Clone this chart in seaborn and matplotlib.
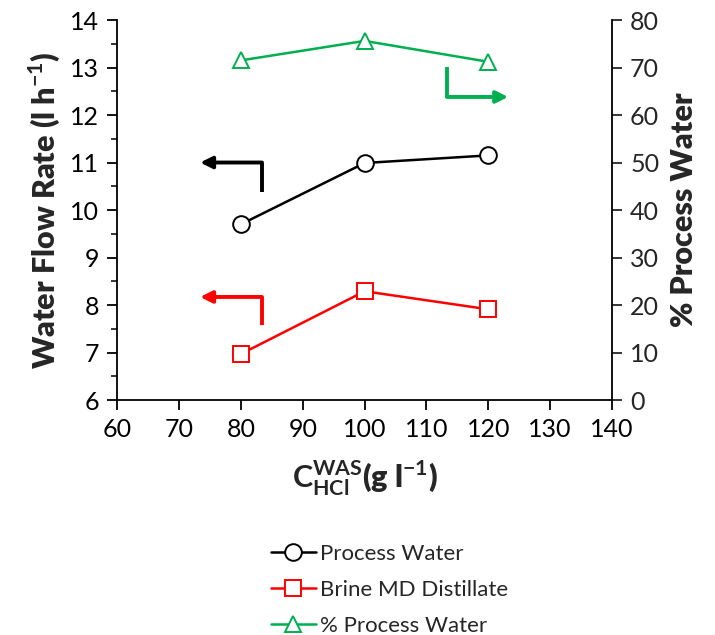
import numpy as np
import pandas as pd
import matplotlib
matplotlib.use("Agg")
import matplotlib.pyplot as plt
import seaborn as sns
from matplotlib.ticker import MultipleLocator

# data
conc_hcl = [80, 100, 120]
process_water = [9.70, 10.99, 11.15]
brine_md = [6.97, 8.29, 7.91]
pct_process = [71.5, 75.6, 71.2]

sns.set_style("white")
plt.rcParams['font.family'] = ['Lato', 'DejaVu Sans']
plt.rcParams['mathtext.fontset'] = 'custom'
plt.rcParams['mathtext.rm'] = 'Lato'
plt.rcParams['mathtext.bf'] = 'Lato:bold'

df = pd.DataFrame({'C': conc_hcl, 'pw': process_water, 'brine': brine_md, 'pct': pct_process})

fig = plt.figure(figsize=(7.15, 6.35), dpi=100)
ax = fig.add_axes([0.164, 0.37, 0.692, 0.5985])
ax2 = ax.twinx()

sns.lineplot(data=df, x='C', y='pw', ax=ax, color='black', lw=1.8, marker='o', ms=12,
             mfc='white', mec='black', mew=1.4, label='Process Water', legend=False)
sns.lineplot(data=df, x='C', y='brine', ax=ax, color='#ff0000', lw=1.8, marker='s', ms=12,
             mfc='white', mec='#ff0000', mew=1.4, label='Brine MD Distillate', legend=False)
sns.lineplot(data=df, x='C', y='pct', ax=ax2, color='#00b050', lw=1.8, marker='^', ms=12,
             mfc='white', mec='#00b050', mew=1.4, label='% Process Water', legend=False)

ax.set_xlim(60, 140)
ax.set_ylim(6, 14)
ax2.set_ylim(0, 80)
ax.xaxis.set_major_locator(MultipleLocator(10))
ax.yaxis.set_major_locator(MultipleLocator(1))
ax.yaxis.set_minor_locator(MultipleLocator(0.5))
ax2.yaxis.set_major_locator(MultipleLocator(10))

for a in (ax, ax2):
    for s in a.spines.values():
        s.set_visible(False)
        s.set_color('black')
        s.set_linewidth(1.3)
ax.spines['left'].set_visible(True)
ax.spines['bottom'].set_visible(True)
ax2.spines['right'].set_visible(True)

ax.tick_params(axis='both', which='major', direction='out', length=7, width=1.3,
               labelsize=18, left=True, bottom=True, colors='black', pad=6)
ax.tick_params(axis='y', which='minor', direction='out', length=4, width=1.3, left=True)
ax2.tick_params(axis='y', which='major', direction='out', length=7, width=1.3,
                labelsize=18, right=True, pad=6)

ax.set_ylabel('Water Flow Rate (l h$^{\\mathbf{-1}}$)', fontsize=22, fontweight='heavy', labelpad=6)
ax2.set_ylabel('% Process Water', fontsize=22, fontweight='heavy', labelpad=8)
ax.set_xlabel('$\\mathbf{C}_{\\mathbf{HCl}}^{\\mathbf{WAS}}$(g l$^{\\mathbf{-1}}$)',
              fontsize=22, fontweight='heavy', labelpad=12)

# direction arrows
def bent_arrow(x0, y0, x1, y1, x2, y2, color):
    ax.plot([x0, x1], [y0, y1], color=color, lw=2.8, solid_capstyle='butt')
    ax.annotate('', xy=(x2, y2), xytext=(x1, y1),
                arrowprops=dict(arrowstyle='-|>,head_length=0.7,head_width=0.35',
                                color=color, lw=2.8, shrinkA=0, shrinkB=0))

bent_arrow(83.4, 10.38, 83.4, 11.0, 73.4, 11.0, 'black')
bent_arrow(83.4, 7.58, 83.4, 8.17, 73.4, 8.17, '#ff0000')
bent_arrow(113.3, 13.01, 113.3, 12.38, 123.2, 12.38, '#00b050')

h1, l1 = ax.get_legend_handles_labels()
h2, l2 = ax2.get_legend_handles_labels()
fig.legend(h1 + h2, l1 + l2, loc='upper center', bbox_to_anchor=(0.545, 0.158),
           frameon=False, fontsize=16, handlelength=2.0, handletextpad=0.2,
           labelspacing=0.72, borderaxespad=0)

fig.savefig('out.png', dpi=100)
